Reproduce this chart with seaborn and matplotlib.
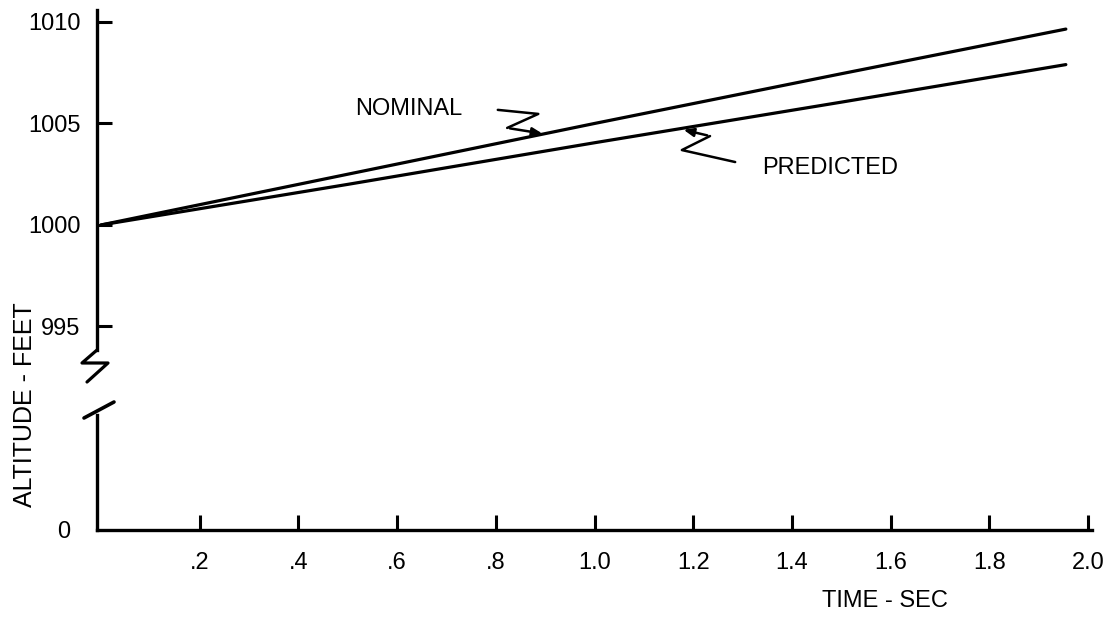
import matplotlib
matplotlib.use("Agg")
import matplotlib.pyplot as plt
from matplotlib.lines import Line2D
import seaborn as sns
import pandas as pd

# ---- data ----
time_sec = [0.0, 0.5, 1.0, 1.5, 1.955]
nominal_ft = [1000.0, 1002.5, 1005.0, 1007.45, 1009.65]
predicted_ft = [1000.0, 1002.0, 1004.05, 1006.05, 1007.9]
upper_yticks = [995, 1000, 1005, 1010]
upper_yticklabels = ["995", "1000", "1005", "1010"]
xticks = [0.2, 0.4, 0.6, 0.8, 1.0, 1.2, 1.4, 1.6, 1.8, 2.0]
xticklabels = [".2", ".4", ".6", ".8", "1.0", "1.2", "1.4", "1.6", "1.8", "2.0"]

df = pd.DataFrame({
    "time": time_sec * 2,
    "alt": nominal_ft + predicted_ft,
    "series": ["NOMINAL"] * len(time_sec) + ["PREDICTED"] * len(time_sec),
})

sns.set_style("white")
plt.rcParams["font.family"] = ["Liberation Sans", "DejaVu Sans"]
plt.rcParams["text.color"] = "black"
plt.rcParams["axes.labelcolor"] = "black"
FS = 17
W, H = 1119, 618

fig = plt.figure(figsize=(W / 100, H / 100), dpi=100)

def px(x, y):
    return x / W, 1 - y / H

left = 97 / W
width = 995 / W
xlim = (-0.0081, 2.008)

# upper axes (995 - 1010)
ax_u = fig.add_axes([left, (H - 350) / H, width, 340 / H])
sns.lineplot(data=df, x="time", y="alt", hue="series",
             palette=["black", "black"], linewidth=2.3, legend=False, ax=ax_u)
ax_u.set_xlim(*xlim)
ax_u.set_ylim(993.84, 1010.59)
for s in ["top", "right", "bottom"]:
    ax_u.spines[s].set_visible(False)
ax_u.spines["left"].set_linewidth(2.4)
ax_u.spines["left"].set_color("black")
ax_u.set_xticks([])
ax_u.set_yticks(upper_yticks)
ax_u.set_yticklabels(upper_yticklabels, fontsize=FS)
ax_u.tick_params(axis="y", left=True, direction="in", length=11, width=2.2,
                 pad=12, colors="black", labelcolor="black")
ax_u.set_xlabel("")
ax_u.set_ylabel("")
ax_u.patch.set_alpha(0)

# annotations with zigzag leaders
ax_u.text(0.515, 1005.71, "NOMINAL", fontsize=FS, va="center", ha="left", color="black")
nom_leader_x = [0.804, 0.886, 0.823]
nom_leader_y = [1005.67, 1005.47, 1004.78]
ax_u.plot(nom_leader_x, nom_leader_y, color="black", lw=1.8, clip_on=False)
ax_u.annotate("", xy=(0.9, 1004.48), xytext=(0.823, 1004.78),
              arrowprops=dict(arrowstyle="-|>,head_length=0.6,head_width=0.25",
                              color="black", lw=1.8))

ax_u.text(1.339, 1002.81, "PREDICTED", fontsize=FS, va="center", ha="left", color="black")
pred_leader_x = [1.234, 1.177, 1.285]
pred_leader_y = [1004.38, 1003.69, 1003.10]
ax_u.plot(pred_leader_x, pred_leader_y, color="black", lw=1.8, clip_on=False)
ax_u.annotate("", xy=(1.175, 1004.72), xytext=(1.234, 1004.38),
              arrowprops=dict(arrowstyle="-|>,head_length=0.6,head_width=0.25",
                              color="black", lw=1.8))

# lower axes (0)
ax_l = fig.add_axes([left, (H - 530) / H, width, 115 / H])
ax_l.set_xlim(*xlim)
ax_l.set_ylim(0, 1)
for s in ["top", "right"]:
    ax_l.spines[s].set_visible(False)
for s in ["left", "bottom"]:
    ax_l.spines[s].set_linewidth(2.4)
    ax_l.spines[s].set_color("black")
ax_l.set_yticks([0])
ax_l.set_yticklabels(["0"], fontsize=FS)
ax_l.tick_params(axis="y", left=False, length=0, pad=19, labelcolor="black")
ax_l.set_xticks(xticks)
ax_l.set_xticklabels(xticklabels, fontsize=FS)
ax_l.tick_params(axis="x", bottom=True, direction="in", length=11, width=2.2,
                 pad=16, colors="black", labelcolor="black")
ax_l.patch.set_alpha(0)

# axis break marks
zz = [px(97, 350), px(82, 363), px(108, 363), px(87, 382)]
fig.add_artist(Line2D([p[0] for p in zz], [p[1] for p in zz],
                      color="black", lw=2.3, transform=fig.transFigure))
sl = [px(84, 418), px(114, 402)]
fig.add_artist(Line2D([p[0] for p in sl], [p[1] for p in sl],
                      color="black", lw=2.6, transform=fig.transFigure))

# axis titles
fig.text(*px(25, 405), "ALTITUDE - FEET", rotation=90, fontsize=18,
         ha="center", va="center", color="black")
fig.text(*px(885, 601), "TIME - SEC", fontsize=FS, ha="center", va="center",
         color="black")

fig.savefig("out.png", dpi=100, facecolor="white")
